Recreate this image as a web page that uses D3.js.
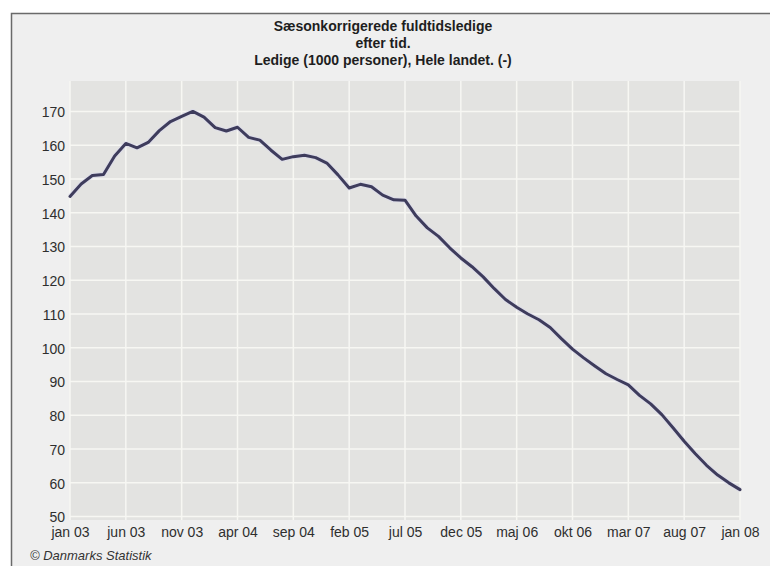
<!DOCTYPE html>
<html>
<head>
<meta charset="utf-8">
<script src="https://cdn.jsdelivr.net/npm/d3@7"></script>
<style>
  html, body { margin: 0; padding: 0; background: #ffffff; }
  svg { display: block; }
  text { font-family: "Liberation Sans", Arial, sans-serif; }
</style>
</head>
<body>
<svg id="chart" width="770" height="566"></svg>
<script>
// ---- data ----
const titleLines = ["Sæsonkorrigerede fuldtidsledige", "efter tid.", "Ledige (1000 personer), Hele landet. (-)"];
const sourceText = "© Danmarks Statistik";
const startYear = 2003;
const startMonth = 0; // januar
// monthly values, jan 2003 .. jan 2008 (1000 persons)
const values = [
  144.8, 148.5, 151.0, 151.3, 156.8, 160.5, 159.2, 160.8, 164.3, 167.0, 168.5, 170.0,
  168.3, 165.2, 164.2, 165.3, 162.3, 161.5, 158.5, 155.8, 156.6, 157.0, 156.3, 154.7,
  151.2, 147.3, 148.4, 147.7, 145.2, 143.8, 143.7, 139.0, 135.5, 133.0, 129.6, 126.6,
  124.0, 121.0, 117.5, 114.3, 112.0, 110.0, 108.3, 106.0, 102.7, 99.6, 97.0, 94.6,
  92.3, 90.6, 89.0, 85.9, 83.4, 80.2, 76.3, 72.3, 68.6, 65.2, 62.3, 60.0,
  58.0
];
const xTickIndex = [0, 5, 10, 15, 20, 25, 30, 35, 40, 45, 50, 55, 60];
const xTickLabels = ["jan 03", "jun 03", "nov 03", "apr 04", "sep 04", "feb 05", "jul 05", "dec 05", "maj 06", "okt 06", "mar 07", "aug 07", "jan 08"];
const yTicks = [50, 60, 70, 80, 90, 100, 110, 120, 130, 140, 150, 160, 170];
const yDomain = [49, 179];

// ---- layout ----
const svg = d3.select("#chart");
const W = 770, H = 566;
const plot = { left: 70, right: 740, top: 81, bottom: 520 };

// outer panel
svg.append("rect").attr("x", 11.5).attr("y", 13.5).attr("width", W).attr("height", H)
  .attr("fill", "#efefef").attr("stroke", "#6a6a6a").attr("stroke-width", 1.5);

const x = d3.scaleLinear().domain([0, values.length - 1]).range([plot.left, plot.right]);
const y = d3.scaleLinear().domain(yDomain).range([plot.bottom, plot.top]);

// plot background
svg.append("rect")
  .attr("x", x(0)).attr("y", y(yDomain[1]))
  .attr("width", x(values.length - 1) - x(0)).attr("height", y(yDomain[0]) - y(yDomain[1]))
  .attr("fill", "#e3e3e1");

// gridlines
const grid = svg.append("g");
grid.selectAll("line.h").data(yTicks).join("line").attr("class", "h")
  .attr("x1", x(0)).attr("x2", x(values.length - 1))
  .attr("y1", d => y(d)).attr("y2", d => y(d))
  .attr("stroke", "#f7f7f3").attr("stroke-width", 1.5);
grid.selectAll("line.v").data(xTickIndex).join("line").attr("class", "v")
  .attr("x1", d => x(d)).attr("x2", d => x(d))
  .attr("y1", y(yDomain[0])).attr("y2", y(yDomain[1]))
  .attr("stroke", "#f7f7f3").attr("stroke-width", 1.5);

// y axis labels
const yAxis = d3.axisLeft(y).tickValues(yTicks).tickSize(0).tickPadding(5).tickFormat(d3.format("d"));
const gy = svg.append("g").attr("transform", `translate(${plot.left},0)`).call(yAxis);
gy.select(".domain").remove();
gy.selectAll("text").attr("font-size", 14).attr("fill", "#2e2e2e")
  .attr("font-family", "'Liberation Sans', Arial, sans-serif").attr("dy", "0.38em");

// x axis labels
const xAxis = d3.axisBottom(x).tickValues(xTickIndex).tickSize(0).tickPadding(7)
  .tickFormat((d, i) => xTickLabels[i]);
const gx = svg.append("g").attr("transform", `translate(0,${plot.bottom})`).call(xAxis);
gx.select(".domain").remove();
gx.selectAll("text").attr("font-size", 14).attr("fill", "#2e2e2e")
  .attr("font-family", "'Liberation Sans', Arial, sans-serif");

// line
const line = d3.line().x((d, i) => x(i)).y(d => y(d)).curve(d3.curveLinear);
svg.append("path").datum(values)
  .attr("d", line).attr("fill", "none")
  .attr("stroke", "#d8d8ec").attr("stroke-width", 5).attr("stroke-linejoin", "round").attr("opacity", 0.6);
svg.append("path").datum(values)
  .attr("d", line).attr("fill", "none")
  .attr("stroke", "#3e3c5c").attr("stroke-width", 3).attr("stroke-linejoin", "round").attr("stroke-linecap", "round");

// title
svg.append("g").selectAll("text").data(titleLines).join("text")
  .attr("x", 383).attr("y", (d, i) => 31 + i * 17)
  .attr("text-anchor", "middle").attr("font-size", 14).attr("font-weight", "bold")
  .attr("fill", "#1e1e1e").text(d => d);

// source
svg.append("text").attr("x", 30).attr("y", 560)
  .attr("font-size", 13).attr("font-style", "italic").attr("fill", "#333")
  .text(sourceText);
</script>
</body>
</html>
